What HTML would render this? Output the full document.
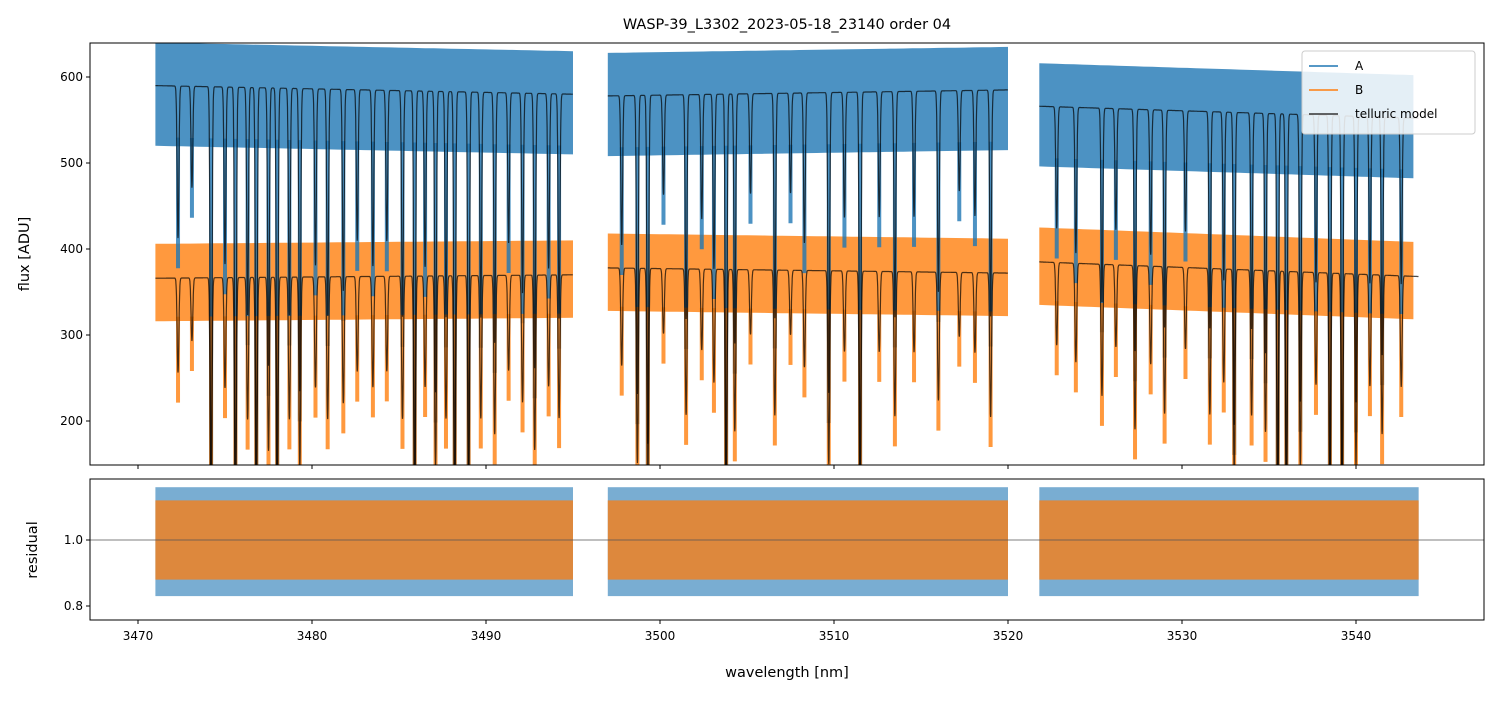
<!DOCTYPE html>
<html><head><meta charset="utf-8"><style>
body{margin:0;background:#fff;font-family:"Liberation Sans","DejaVu Sans",sans-serif}
svg text{font-family:"DejaVu Sans","Liberation Sans",sans-serif}
</style></head><body>
<svg id="c" width="1499" height="696" xmlns="http://www.w3.org/2000/svg"></svg>
<script>
const segStart=[3471.0,3497.0,3521.8];
const segEnd=[3495.0,3520.0,3543.6];
const contA0=[590,578,566];
const contA1=[580,585,552];
const contB0=[366,378,385];
const contB1=[370,372,368];
const lineCenters=[3472.3,3473.1,3474.2,3475.0,3475.6,3476.3,3476.8,3477.5,3478.0,3478.7,3479.3,3480.2,3480.9,3481.8,3482.6,3483.5,3484.3,3485.2,3485.9,3486.5,3487.1,3487.7,3488.2,3489.0,3489.7,3490.5,3491.3,3492.1,3492.8,3493.6,3494.2,
3497.8,3498.7,3499.3,3500.2,3501.5,3502.4,3503.1,3503.8,3504.3,3505.2,3506.6,3507.5,3508.3,3509.7,3510.6,3511.5,3512.6,3513.5,3514.6,3516.0,3517.2,3518.1,3519.0,
3522.8,3523.9,3525.4,3526.2,3527.3,3528.2,3529.0,3530.2,3531.6,3532.4,3533.0,3534.0,3534.8,3535.5,3536.0,3536.8,3537.7,3538.5,3539.2,3540.0,3540.8,3541.5,3542.6];
const lineDepths=[0.3,0.2,0.85,0.35,0.85,0.45,0.8,0.55,0.8,0.45,0.6,0.35,0.45,0.4,0.3,0.35,0.3,0.45,0.8,0.35,0.6,0.45,0.8,0.75,0.45,0.5,0.3,0.4,0.55,0.35,0.45,
0.3,0.6,0.7,0.2,0.45,0.25,0.35,0.8,0.5,0.2,0.45,0.2,0.3,0.6,0.25,0.8,0.25,0.45,0.25,0.4,0.2,0.25,0.45,
0.25,0.3,0.4,0.25,0.5,0.3,0.45,0.25,0.45,0.35,0.65,0.45,0.5,0.8,0.8,0.6,0.35,0.8,0.8,0.6,0.35,0.5,0.35];
const xTicks=[3470,3480,3490,3500,3510,3520,3530,3540];
const yTicksTop=[200,300,400,500,600];
const yTicksBot=[0.8,1.0];

const L=90,R=1484,T1=43,B1=465,T2=479,B2=620;
const X=v=>138+(v-3470)*17.4;
const Y1=v=>77+(600-v)*0.86;
const Y2=v=>540+(1-v)*330;
const NS="http://www.w3.org/2000/svg";
const svg=document.getElementById('c');
function el(t,a,p){const e=document.createElementNS(NS,t);for(const k in a)e.setAttribute(k,a[k]);(p||svg).appendChild(e);return e;}
function txt(x,y,s,a,p){const e=el('text',Object.assign({x,y,fill:'#000','font-size':12},a||{}),p);e.textContent=s;return e;}
function model(x){let f=1;for(let i=0;i<lineCenters.length;i++){const d=(x-lineCenters[i])/0.07;if(Math.abs(d)<5)f*=1-lineDepths[i]*Math.exp(-d*d);}return f;}
function cont(c0,c1,si,x){const t=(x-segStart[si])/(segEnd[si]-segStart[si]);return c0[si]+(c1[si]-c0[si])*t;}

const defs=el('defs',{});
const cp=el('clipPath',{id:'cp1'},defs);el('rect',{x:L,y:T1,width:R-L,height:B1-T1},cp);
const cp2=el('clipPath',{id:'cp2'},defs);el('rect',{x:L,y:T2,width:R-L,height:B2-T2},cp2);
const g1=el('g',{'clip-path':'url(#cp1)'});
const g2=el('g',{'clip-path':'url(#cp2)'});

function band(c0,c1,si,up,dn){const s=segStart[si],e=segEnd[si];const top=[],bot=[];
  for(let x=s;x<=e+1e-9;x+=0.5){const c=cont(c0,c1,si,x);top.push(X(x).toFixed(1)+','+Y1(c+up).toFixed(1));bot.unshift(X(x).toFixed(1)+','+Y1(c-dn).toFixed(1));}
  return top.concat(bot).join(' ');}
function curve(c0,c1,si){const a=[];for(let x=segStart[si];x<=segEnd[si];x+=0.01){a.push(X(x).toFixed(1)+','+Y1(cont(c0,c1,si,x)*model(x)).toFixed(1));}return a.join(' ');}
for(let i=0;i<segStart.length;i++){
  const pa=el('polygon',{points:band(contA0,contA1,i,50,70),fill:'#1f77b4','fill-opacity':0.8},g1);
  
  const pb=el('polygon',{points:band(contB0,contB1,i,40,50),fill:'#ff7f0e','fill-opacity':0.8},g1);
  
  lineCenters.forEach((c,k)=>{if(c<segStart[i]||c>segEnd[i])return;
    const ca=cont(contA0,contA1,i,c),cb=cont(contB0,contB1,i,c);
    const da=el('line',{x1:X(c),x2:X(c),y1:Y1(ca-60),y2:Y1(ca*(1-lineDepths[k])-35),stroke:'#1f77b4','stroke-width':4,'stroke-opacity':0.8},g1);
    
    const db=el('line',{x1:X(c),x2:X(c),y1:Y1(cb-45),y2:Y1(cb*(1-lineDepths[k])-35),stroke:'#ff7f0e','stroke-width':4,'stroke-opacity':0.8},g1);
    });
  const ma=el('polyline',{points:curve(contA0,contA1,i),fill:'none',stroke:'#000','stroke-opacity':0.7,'stroke-width':1.2},g1);
  
  const mb=el('polyline',{points:curve(contB0,contB1,i),fill:'none',stroke:'#000','stroke-opacity':0.7,'stroke-width':1.2},g1);
  
  const ra=el('rect',{x:X(segStart[i]),y:Y2(1.16),width:X(segEnd[i])-X(segStart[i]),height:Y2(0.83)-Y2(1.16),fill:'#1f77b4','fill-opacity':0.6},g2);
  
  const rb=el('rect',{x:X(segStart[i]),y:Y2(1.12),width:X(segEnd[i])-X(segStart[i]),height:Y2(0.88)-Y2(1.12),fill:'#e8842c','fill-opacity':0.9},g2);
  
}
const ref=el('line',{x1:L,x2:R,y1:Y2(1),y2:Y2(1),stroke:'#555','stroke-width':0.8},g2);


el('rect',{x:L,y:T1,width:R-L,height:B1-T1,fill:'none',stroke:'#000','stroke-width':1});
el('rect',{x:L,y:T2,width:R-L,height:B2-T2,fill:'none',stroke:'#000','stroke-width':1});
xTicks.forEach(v=>{el('line',{x1:X(v),x2:X(v),y1:B1,y2:B1+4,stroke:'#000'});el('line',{x1:X(v),x2:X(v),y1:B2,y2:B2+4,stroke:'#000'});
  const t=txt(X(v),640,v,{'text-anchor':'middle'});});
yTicksTop.forEach(v=>{el('line',{x1:L-4,x2:L,y1:Y1(v),y2:Y1(v),stroke:'#000'});
  const t=txt(L-7,Y1(v)+4,v,{'text-anchor':'end'});});
yTicksBot.forEach(v=>{el('line',{x1:L-4,x2:L,y1:Y2(v),y2:Y2(v),stroke:'#000'});
  const t=txt(L-7,Y2(v)+4,v.toFixed(1),{'text-anchor':'end'});});
let t=txt(787,29,'WASP-39_L3302_2023-05-18_23140  order 04',{'text-anchor':'middle','font-size':14.5,'xml:space':'preserve'});
t=txt(787,677,'wavelength [nm]',{'text-anchor':'middle','font-size':14.5});
t=txt(0,0,'flux [ADU]',{'text-anchor':'middle','font-size':14.5,transform:'translate(29,254) rotate(-90)'});
t=txt(0,0,'residual',{'text-anchor':'middle','font-size':14.5,transform:'translate(37,550) rotate(-90)'});
const lg=el('g',{});
el('rect',{x:1302,y:51,width:173,height:83,rx:3,fill:'#fff','fill-opacity':0.85,stroke:'#ccc'},lg);
[['A','#1f77b4'],['B','#ff7f0e'],['telluric model','#333']].forEach((d,i)=>{const y=66+i*24;
  el('line',{x1:1309,x2:1338,y1:y,y2:y,stroke:d[1],'stroke-width':1.5},lg);
  const e=txt(1355,y+4,d[0],{},lg);});
</script>
</body></html>
